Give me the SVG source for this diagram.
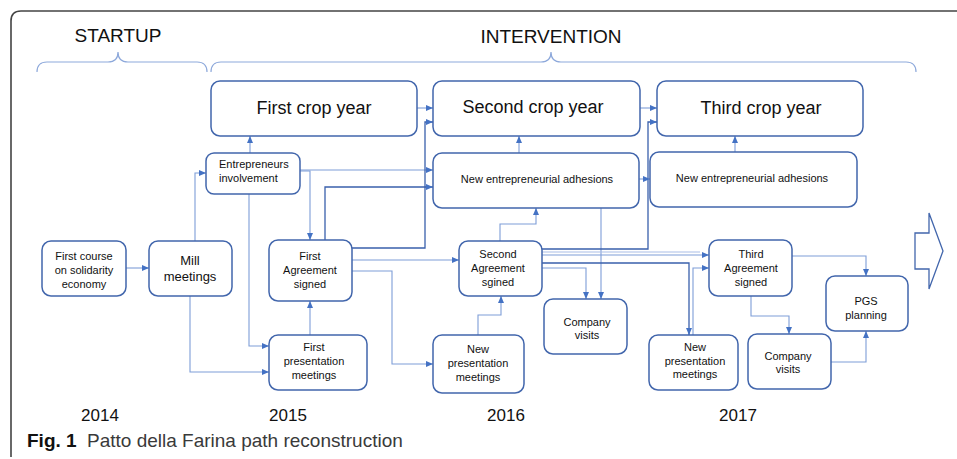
<svg xmlns="http://www.w3.org/2000/svg" width="957" height="459" viewBox="0 0 957 459">
<defs>
<marker id="ah" markerWidth="7" markerHeight="6" refX="7" refY="3" orient="auto" markerUnits="userSpaceOnUse">
<path d="M0,0 L7,3 L0,6 z" fill="#4472C4"/>
</marker>
<style>
text{font-family:"Liberation Sans",Arial,sans-serif;fill:#111}
.box{fill:#fff;stroke:#4266AC;stroke-width:1.5}
.big{font-size:18px;text-anchor:middle}
.sm{font-size:11px;text-anchor:middle}
.hd{font-size:19px;text-anchor:middle}
.yr{font-size:17px;text-anchor:middle}
.c{fill:none;stroke:#7E9DD8;stroke-width:1.1;marker-end:url(#ah)}
.d{fill:none;stroke:#3A60AC;stroke-width:1.3;marker-end:url(#ah)}
.br{fill:none;stroke:#8EA9DB;stroke-width:1.2}
</style>
</defs>
<rect width="957" height="459" fill="#fff"/>
<path d="M11 457 V21 Q11 11 21 11 H957" fill="none" stroke="#444" stroke-width="1.6"/>

<text class="hd" x="118" y="42">STARTUP</text>
<text class="hd" x="551" y="43">INTERVENTION</text>
<path class="br" d="M37 72 Q37 62 47 62 H108 Q118 62 118 52 Q118 62 128 62 H197 Q207 62 207 72"/>
<path class="br" d="M211 72 Q211 62 221 62 H541 Q551 62 551 52 Q551 62 561 62 H906 Q916 62 916 72"/>

<g id="connectors">
<path class="c" d="M126 268 H149"/>
<path class="c" d="M195 241 V173 H206"/>
<path class="c" d="M190 296 V372 H269"/>
<path class="c" d="M250 153 V136"/>
<path class="c" d="M249 194 V346 H269"/>
<path class="c" d="M300 170 H433"/>
<path class="c" d="M300 171 H310 V240"/>
<path class="d" d="M325 240 V187 H433"/>
<path class="d" d="M352 248 H425 V122 H433"/>
<path class="c" d="M417 108 H433"/>
<path class="c" d="M352 260 H459"/>
<path class="c" d="M352 271 H392 V364 H433"/>
<path class="c" d="M478 335 V315 H501 V296"/>
<path class="c" d="M500 241 V224 H536 V208"/>
<path class="c" d="M519 153 V136"/>
<path class="c" d="M601 208 V299"/>
<path class="c" d="M542 268 H586 V299"/>
<path class="d" d="M542 249 H648 V122 H657"/>
<path fill="none" stroke="#A9BDE6" stroke-width="1" d="M542 252 H700"/>
<path class="c" d="M542 255 H709"/>
<path class="d" d="M542 263 H689 V335"/>
<path class="c" d="M693 335 V268 H709"/>
<path class="c" d="M640 108 H657"/>
<path class="c" d="M639 179 H650"/>
<path class="c" d="M735 152 V136"/>
<path class="c" d="M792 256 H866 V276"/>
<path class="c" d="M751 296 V316 H789 V334"/>
<path class="c" d="M831 362 H866 V331"/>
<path class="c" d="M310 335 V301"/>
</g>

<g id="first-crop-year"><rect class="box" x="211" y="81" width="206" height="55" rx="9"/><text class="big" x="314" y="114">First crop year</text></g>
<g id="second-crop-year"><rect class="box" x="433" y="81" width="207" height="55" rx="9"/><text class="big" x="533" y="113">Second crop year</text></g>
<g id="third-crop-year"><rect class="box" x="657" y="81" width="206" height="55" rx="9"/><text class="big" x="761" y="114">Third crop year</text></g>

<g id="entrepreneurs-involvement"><rect class="box" x="206" y="153" width="94" height="41" rx="8"/><text class="sm" style="text-anchor:start" x="219" y="168">Entrepreneurs</text><text class="sm" style="text-anchor:start" x="219" y="182">involvement</text></g>
<g id="new-adhesions-2"><rect class="box" x="433" y="153" width="206" height="55" rx="9"/><text class="sm" x="537" y="183">New entrepreneurial adhesions</text></g>
<g id="new-adhesions-3"><rect class="box" x="650" y="152" width="207" height="55" rx="9"/><text class="sm" x="752" y="182">New entrepreneurial adhesions</text></g>

<g id="first-course"><rect class="box" x="42" y="241" width="84" height="55" rx="9"/><text class="sm" x="84" y="260">First course</text><text class="sm" x="84" y="274">on solidarity</text><text class="sm" x="84" y="288">economy</text></g>
<g id="mill-meetings"><rect class="box" x="149" y="241" width="83" height="55" rx="9"/><text class="sm" style="font-size:13px" x="190" y="265">Mill</text><text class="sm" style="font-size:13px" x="190" y="281">meetings</text></g>
<g id="first-agreement"><rect class="box" x="269" y="240" width="83" height="61" rx="9"/><text class="sm" x="310" y="260">First</text><text class="sm" x="310" y="274">Agreement</text><text class="sm" x="310" y="288">signed</text></g>
<g id="second-agreement"><rect class="box" x="459" y="241" width="83" height="55" rx="9"/><text class="sm" x="498" y="258">Second</text><text class="sm" x="498" y="272">Agreement</text><text class="sm" x="498" y="286">sgined</text></g>
<g id="third-agreement"><rect class="box" x="709" y="240" width="83" height="56" rx="9"/><text class="sm" x="751" y="258">Third</text><text class="sm" x="751" y="272">Agreement</text><text class="sm" x="751" y="286">signed</text></g>

<g id="pgs-planning"><rect class="box" x="826" y="276" width="82" height="55" rx="9"/><text class="sm" x="866" y="305">PGS</text><text class="sm" x="866" y="319">planning</text></g>
<g id="company-visits-2016"><rect class="box" x="544" y="299" width="83" height="55" rx="9"/><text class="sm" x="587" y="326">Company</text><text class="sm" x="587" y="339">visits</text></g>
<g id="new-presentation-2017"><rect class="box" x="649" y="335" width="89" height="55" rx="9"/><text class="sm" x="695" y="351">New</text><text class="sm" x="695" y="365">presentation</text><text class="sm" x="695" y="378">meetings</text></g>
<g id="company-visits-2017"><rect class="box" x="748" y="334" width="83" height="55" rx="9"/><text class="sm" x="788" y="360">Company</text><text class="sm" x="788" y="373">visits</text></g>
<g id="first-presentation"><rect class="box" x="269" y="335" width="98" height="55" rx="9"/><text class="sm" x="314" y="351">First</text><text class="sm" x="314" y="365">presentation</text><text class="sm" x="314" y="379">meetings</text></g>
<g id="new-presentation-2016"><rect class="box" x="433" y="335" width="91" height="58" rx="9"/><text class="sm" x="478" y="353">New</text><text class="sm" x="478" y="367">presentation</text><text class="sm" x="478" y="381">meetings</text></g>

<g id="big-arrow"><polygon points="915,233 929,233 929,213 943,251 929,289 929,269 915,269" fill="#fff" stroke="#4266AC" stroke-width="1.3"/></g>

<text class="yr" x="100" y="421">2014</text>
<text class="yr" x="288" y="421">2015</text>
<text class="yr" x="506" y="421">2016</text>
<text class="yr" x="738" y="421">2017</text>

<text x="27" y="447" style="font-size:19px;font-weight:bold">Fig. 1</text>
<text x="87" y="447" style="font-size:19px;fill:#3a3a3a">Patto della Farina path reconstruction</text>
</svg>
